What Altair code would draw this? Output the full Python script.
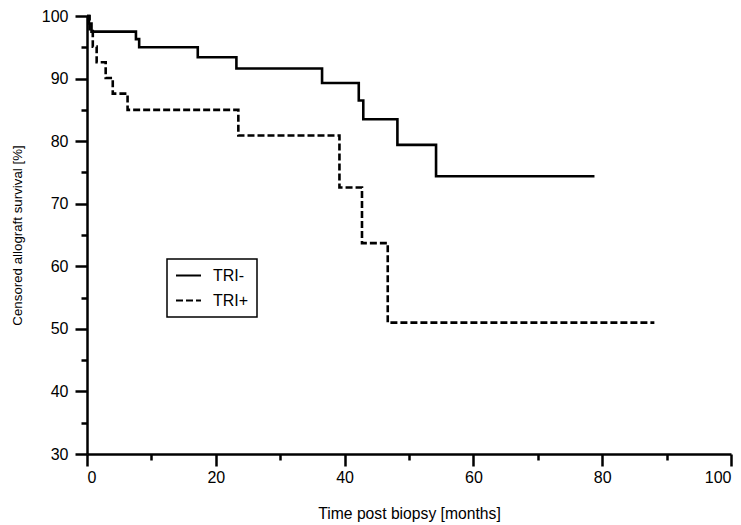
import altair as alt
import pandas as pd

# Kaplan-Meier step data
tri_neg_time = [0, 0.3, 0.7, 7.6, 8.1, 17.2, 23.2, 36.5, 42.2, 42.9, 48.2, 54.2, 78.8]
tri_neg_surv = [100, 98.8, 97.5, 96.3, 95.0, 93.4, 91.6, 89.3, 86.5, 83.5, 79.4, 74.4, 74.4]
tri_pos_time = [0, 0.4, 0.9, 1.5, 2.9, 4.0, 6.3, 23.5, 39.2, 42.7, 46.7, 88.1]
tri_pos_surv = [100, 97.6, 95.1, 92.6, 90.1, 87.6, 85.0, 80.9, 72.6, 63.7, 51.0, 51.0]
groups = ["TRI-", "TRI+"]

rows = []
for t, s in zip(tri_neg_time, tri_neg_surv):
    rows.append({"time": t, "surv": s, "group": groups[0]})
for t, s in zip(tri_pos_time, tri_pos_surv):
    rows.append({"time": t, "surv": s, "group": groups[1]})
df = pd.DataFrame(rows)

FONT = "Liberation Sans, Arial"

chart = alt.Chart(df).mark_line(
    interpolate="step-after", color="black", strokeWidth=2.6, clip=False
).encode(
    x=alt.X(
        "time:Q",
        scale=alt.Scale(domain=[0, 100], nice=False, zero=False),
        axis=alt.Axis(
            values=list(range(0, 101, 10)),
            labelExpr="datum.value % 20 === 0 ? datum.label : ''",
            title="Time post biopsy [months]",
            tickSize={"condition": {"test": "datum.value % 20 === 0", "value": 12}, "value": 6},
            labelPadding=3,
            titlePadding=21,
            titleFontSize=15.7,
        ),
    ),
    y=alt.Y(
        "surv:Q",
        scale=alt.Scale(domain=[30, 100], nice=False, zero=False),
        axis=alt.Axis(
            values=list(range(30, 101, 5)),
            labelExpr="datum.value % 10 === 0 ? datum.label : ''",
            title="Censored allograft survival [%]",
            tickSize={"condition": {"test": "datum.value % 10 === 0", "value": 12}, "value": 6},
            labelPadding=7,
            titlePadding=17,
            titleFontSize=13.3,
        ),
    ),
    strokeDash=alt.StrokeDash(
        "group:N",
        scale=alt.Scale(domain=groups, range=[[1, 0], [7, 3]]),
        legend=alt.Legend(
            title=None,
            orient="none",
            legendX=80,
            legendY=243,
            strokeColor="black",
            padding=8,
            symbolType="stroke",
            symbolSize=625,
            symbolStrokeWidth=2,
            symbolStrokeColor="black",
            labelFontSize=16,
            labelFont=FONT,
            labelColor="black",
            labelOffset=11,
            clipHeight=17,
            rowPadding=8,
        ),
    ),
).properties(
    width=644,
    height=438,
    autosize=alt.AutoSizeParams(type="none"),
    padding={"left": 79, "top": 8, "right": 2, "bottom": 71},
).configure_view(
    stroke=None
).configure_axis(
    grid=False,
    domainColor="black",
    domainWidth=2.5,
    tickColor="black",
    tickWidth=2.5,
    labelFont=FONT,
    labelFontSize=16,
    labelColor="black",
    titleFont=FONT,
    titleFontWeight="normal",
    titleColor="black",
).configure_legend(
    strokeWidth=1.5
)

chart.save("out.html", embed_options={"renderer": "svg", "actions": False})
